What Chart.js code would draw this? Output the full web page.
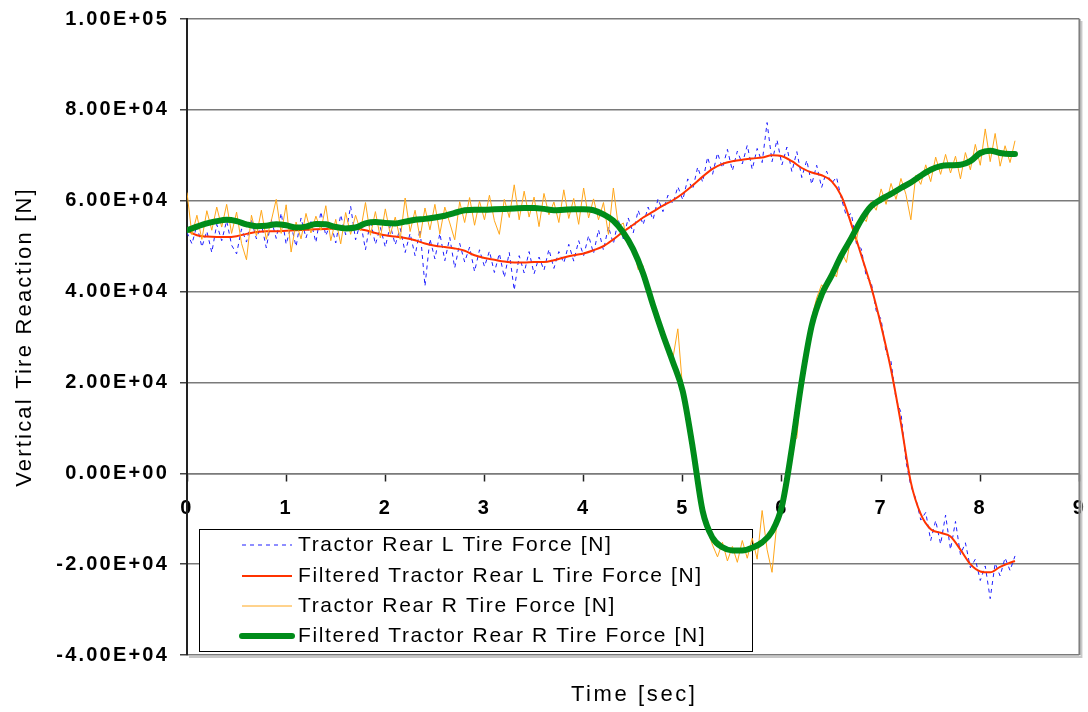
<!DOCTYPE html>
<html>
<head>
<meta charset="utf-8">
<script src="https://cdn.jsdelivr.net/npm/chart.js@4.4.1/dist/chart.umd.min.js"></script>
<style>
  html, body { margin: 0; padding: 0; background: #fff; }
  #wrap { width: 1088px; height: 712px; }
</style>
</head>
<body>
<div id="wrap"><canvas id="chart" width="1088" height="712"></canvas></div>
<script>
// sample times [sec]
const tRaw = [
  0, 0.05, 0.1, 0.15, 0.2, 0.25, 0.3, 0.35, 0.4, 0.45,
  0.5, 0.55, 0.6, 0.65, 0.7, 0.75, 0.8, 0.85, 0.9, 0.95,
  1, 1.05, 1.1, 1.15, 1.2, 1.25, 1.3, 1.35, 1.4, 1.45,
  1.5, 1.55, 1.6, 1.65, 1.7, 1.75, 1.8, 1.85, 1.9, 1.95,
  2, 2.05, 2.1, 2.15, 2.2, 2.25, 2.3, 2.35, 2.4, 2.45,
  2.5, 2.55, 2.6, 2.65, 2.7, 2.75, 2.8, 2.85, 2.9, 2.95,
  3, 3.05, 3.1, 3.15, 3.2, 3.25, 3.3, 3.35, 3.4, 3.45,
  3.5, 3.55, 3.6, 3.65, 3.7, 3.75, 3.8, 3.85, 3.9, 3.95,
  4, 4.05, 4.1, 4.15, 4.2, 4.25, 4.3, 4.35, 4.4, 4.45,
  4.5, 4.55, 4.6, 4.65, 4.7, 4.75, 4.8, 4.85, 4.9, 4.95,
  5, 5.05, 5.1, 5.15, 5.2, 5.25, 5.3, 5.35, 5.4, 5.45,
  5.5, 5.55, 5.6, 5.65, 5.7, 5.75, 5.8, 5.85, 5.9, 5.95,
  6, 6.05, 6.1, 6.15, 6.2, 6.25, 6.3, 6.35, 6.4, 6.45,
  6.5, 6.55, 6.6, 6.65, 6.7, 6.75, 6.8, 6.85, 6.9, 6.95,
  7, 7.05, 7.1, 7.15, 7.2, 7.25, 7.3, 7.35, 7.4, 7.45,
  7.5, 7.55, 7.6, 7.65, 7.7, 7.75, 7.8, 7.85, 7.9, 7.95,
  8, 8.05, 8.1, 8.15, 8.2, 8.25, 8.3, 8.35
];
const tFilt = [
  0, 0.1, 0.2, 0.3, 0.4, 0.5, 0.6, 0.7, 0.8, 0.9,
  1, 1.1, 1.2, 1.3, 1.4, 1.5, 1.6, 1.7, 1.8, 1.9,
  2, 2.1, 2.2, 2.3, 2.4, 2.5, 2.6, 2.7, 2.8, 2.9,
  3, 3.1, 3.2, 3.3, 3.4, 3.5, 3.6, 3.7, 3.8, 3.9,
  4, 4.1, 4.2, 4.3, 4.4, 4.5, 4.6, 4.7, 4.8, 4.9,
  5, 5.1, 5.2, 5.3, 5.4, 5.5, 5.6, 5.7, 5.8, 5.9,
  6, 6.1, 6.2, 6.3, 6.4, 6.5, 6.6, 6.7, 6.8, 6.9,
  7, 7.1, 7.2, 7.3, 7.4, 7.5, 7.6, 7.7, 7.8, 7.9,
  8, 8.1, 8.2, 8.3, 8.35
];

// Tractor Rear L Tire Force [N] (raw)
const rearLRaw = [
  53000, 50500, 54600, 49800, 53300, 48600, 54800, 51200, 55600, 50200,
  48300, 53800, 50900, 55700, 51600, 54900, 49600, 55800, 51700, 57300,
  50400, 54600, 49900, 56200, 51800, 55400, 50800, 57600, 52300, 55200,
  50700, 56900, 52500, 58800, 51400, 55300, 49200, 55700, 50400, 54100,
  49800, 54600, 50300, 53900, 48600, 52800, 47900, 53700, 41200, 51600,
  47200, 52800, 46800, 51900, 45200, 50600, 46500, 49800, 44400, 49200,
  45500, 48900, 44200, 48400, 43100, 48600, 40300, 47900, 44100, 48800,
  43900, 47600, 44700, 49300, 45100, 48800, 46300, 50400, 46700, 51200,
  47900, 52300, 48400, 53600, 49100, 54300, 50500, 55800, 51600, 56200,
  52900, 57900, 54700, 58600, 55800, 60400, 57600, 61200, 59300, 63100,
  60200, 64800, 62500, 67400, 64100, 69600, 65800, 70500, 67200, 71300,
  66600, 70900, 68100, 72200, 66900, 71500, 68400, 77200, 68600, 73400,
  67900, 71800, 66400, 70800, 65100, 68900, 63600, 67800, 62900, 66500,
  63800, 65200, 60400, 56600, 57200, 50600, 49400, 43300, 42100, 35800,
  33900, 26600, 24600, 16300, 13400, 2600, -2800, -5600, -10300, -8600,
  -14800, -10400, -15600, -9200, -16800, -10600, -17900, -15300, -20800, -18900,
  -23600, -20400, -27600, -19800, -22600, -18600, -21400, -18200
];

// Filtered Tractor Rear L Tire Force [N]
const rearLFilt = [
  53500, 52400, 52100, 52000, 52000, 52200, 52700, 53100, 53300, 53300,
  53400, 53500, 53600, 53700, 53800, 53900, 54000, 53900, 53500, 52900,
  52400, 52100, 51800, 51300, 50600, 50100, 49800, 49500, 49000, 48000,
  47400, 47000, 46600, 46400, 46400, 46500, 46500, 46900, 47500, 48000,
  48400, 49100, 50000, 51500, 53200, 54700, 56300, 57600, 58900, 60100,
  61600, 63400, 65300, 67000, 68100, 68700, 69000, 69300, 69500, 70000,
  69800, 68700, 67200, 66200, 65600, 64300, 61000, 54800, 48000, 41000,
  32500, 22800, 11000, -2000, -9000, -12300, -13100, -13900, -16800, -20000,
  -21600, -21800, -20600, -19700, -19300
];

// Tractor Rear R Tire Force [N] (raw)
const rearRRaw = [
  61800, 52500, 56800, 51500, 57800, 53500, 58600, 54200, 59200, 52800,
  57500, 50600, 47000, 56800, 52300, 57900, 51500, 55600, 60300, 52800,
  59100, 48700, 55300, 51600, 57200, 52900, 56600, 53500, 58900, 51200,
  55900, 50500, 57400, 52600, 56800, 53400, 59600, 52400, 57600, 51800,
  58200, 52600, 56400, 51500, 60600, 53200, 57900, 51800, 58400, 53600,
  59200, 52700, 58600, 55100, 51400, 59800, 55200, 60700, 54600, 59900,
  55800, 61200, 55600, 52600, 60300, 56300, 63500, 55800, 62100, 56400,
  60800, 54300, 61600, 56900, 59700, 55200, 62400, 56100, 60500, 54800,
  62800, 56200, 60400, 55800, 59600, 52600, 62800, 54300, 55100, 50200,
  49800, 44800, 45700, 39300, 38600, 33500, 31200, 27600, 25300, 31800,
  18200, 12600, 6800, -1200, -9300, -12600, -15800, -18400, -15200, -19300,
  -16100, -19600, -14800, -18700, -14300, -18900, -8200, -16800, -21800, -10600,
  -6300, -1200, 6500, 7800, 20800, 27400, 34200, 38600, 41500, 40300,
  44800, 43200, 48800, 46400, 52600, 51200, 56800, 55400, 59800, 57900,
  62600, 59200, 63800, 60300, 64900, 61400, 55800, 65600, 63600, 67900,
  64200, 69600, 65800, 70200, 66100, 69800, 64800, 70600, 66800, 72400,
  67800, 75800, 68600, 74800, 67600, 72100, 68400, 73200
];

// Filtered Tractor Rear R Tire Force [N]
const rearRFilt = [
  53500, 54300, 55000, 55500, 55800, 55500, 54800, 54400, 54500, 54800,
  54600, 54100, 54300, 54900, 54800, 54200, 53900, 54100, 55000, 55300,
  55100, 55000, 55400, 55800, 56000, 56300, 56700, 57300, 57900, 58000,
  58000, 58100, 58200, 58300, 58400, 58400, 58200, 57900, 58000, 58100,
  58100, 57900, 57000, 55600, 53000, 49300, 44000, 37000, 30500, 24500,
  18000, 5700, -8300, -14200, -16300, -17000, -17000, -16400, -15200, -12800,
  -7200, 5500, 20400, 32500, 39300, 43500, 48000, 51800, 55800, 58800,
  60300, 61500, 62800, 64000, 65500, 66800, 67600, 67800, 67900, 68700,
  70500, 71000, 70500, 70300, 70300
];

const FONT = 'Liberation Sans';

function pts(xs, ys) {
  return xs.map((x, i) => ({ x: x, y: ys[i] }));
}

// Excel style scientific label, e.g. 1.00E+05
function sci(v) {
  if (v === 0) return '0.00E+00';
  const exp = Math.floor(Math.log10(Math.abs(v)));
  const mant = v / Math.pow(10, exp);
  return mant.toFixed(2) + 'E' + (exp < 0 ? '-' : '+') + String(Math.abs(exp)).padStart(2, '0');
}

// wider glyph spacing for the axis texts
const spacing = {
  id: 'spacing',
  beforeDraw(chart) {
    chart.ctx.letterSpacing = '2.2px';
  }
};

// plot frame + boxed legend that sits under the lines
const legendBox = {
  id: 'legendBox',
  beforeDatasetsDraw(chart) {
    const ctx = chart.ctx;
    const area = chart.chartArea;
    ctx.save();
    ctx.strokeStyle = '#c8c8c8';
    ctx.lineWidth = 2;
    ctx.beginPath();
    ctx.moveTo(area.right + 2, area.top + 2);
    ctx.lineTo(area.right + 2, area.bottom + 2);
    ctx.lineTo(area.left + 2, area.bottom + 2);
    ctx.stroke();
    ctx.strokeStyle = '#808080';
    ctx.lineWidth = 2;
    ctx.beginPath();
    ctx.moveTo(area.right, area.top);
    ctx.lineTo(area.right, area.bottom);
    ctx.stroke();

    const bx = 199, by = 529, bw = 553, bh = 122;
    ctx.fillStyle = '#fff';
    ctx.fillRect(bx, by, bw, bh);
    ctx.strokeStyle = '#000';
    ctx.lineWidth = 1;
    ctx.strokeRect(bx + 0.5, by + 0.5, bw, bh);

    const rows = [545, 576, 606, 636];
    ctx.font = '21px "' + FONT + '"';
    ctx.textBaseline = 'middle';
    ctx.textAlign = 'left';
    ctx.letterSpacing = '1.6px';
    chart.data.datasets.forEach((ds, i) => {
      const y = rows[i];
      ctx.save();
      ctx.strokeStyle = ds.borderColor;
      ctx.lineWidth = ds.borderWidth;
      ctx.setLineDash(ds.borderDash || []);
      ctx.lineCap = ds.borderWidth > 3 ? 'round' : 'butt';
      ctx.beginPath();
      ctx.moveTo(242, y);
      ctx.lineTo(292, y);
      ctx.stroke();
      ctx.restore();
      ctx.fillStyle = '#000';
      ctx.fillText(ds.label, 298, y);
    });
    ctx.restore();
  },
  afterDraw(chart) {
    const ctx = chart.ctx;
    const area = chart.chartArea;
    ctx.save();
    ctx.font = '22px "' + FONT + '"';
    ctx.letterSpacing = '2.6px';
    ctx.fillStyle = '#000';
    ctx.textAlign = 'center';
    ctx.textBaseline = 'alphabetic';
    ctx.fillText('Time [sec]', (area.left + area.right) / 2 + 1, 701);
    ctx.restore();
  }
};

new Chart(document.getElementById('chart'), {
  type: 'line',
  data: {
    datasets: [
      {
        label: 'Tractor Rear L Tire Force [N]',
        data: pts(tRaw, rearLRaw),
        borderColor: '#1f1fff',
        borderWidth: 1,
        borderDash: [4, 4],
        pointRadius: 0,
        tension: 0,
        order: 4
      },
      {
        label: 'Filtered Tractor Rear L Tire Force [N]',
        data: pts(tFilt, rearLFilt),
        borderColor: '#ff3300',
        borderWidth: 2,
        pointRadius: 0,
        cubicInterpolationMode: 'monotone',
        order: 3
      },
      {
        label: 'Tractor Rear R Tire Force [N]',
        data: pts(tRaw, rearRRaw),
        borderColor: '#ffa61a',
        borderWidth: 1,
        pointRadius: 0,
        tension: 0,
        order: 2
      },
      {
        label: 'Filtered Tractor Rear R Tire Force [N]',
        data: pts(tFilt, rearRFilt),
        borderColor: '#008c1a',
        borderWidth: 6,
        borderCapStyle: 'round',
        borderJoinStyle: 'round',
        pointRadius: 0,
        cubicInterpolationMode: 'monotone',
        order: 1
      }
    ]
  },
  options: {
    responsive: false,
    animation: false,
    devicePixelRatio: 1,
    layout: { padding: { top: 19, right: 8, bottom: 57, left: 0 } },
    plugins: {
      legend: { display: false },
      tooltip: { enabled: false }
    },
    scales: {
      x: {
        type: 'linear',
        position: { y: 0 },
        min: 0,
        max: 9,
        grid: { drawOnChartArea: false, drawTicks: true, tickLength: 7, tickColor: '#222', tickWidth: 1.5 },
        border: { display: true, color: '#7a7a7a', width: 1.5 },
        ticks: {
          stepSize: 1,
          padding: 3,
          maxRotation: 0,
          color: '#000',
          font: { family: FONT, size: 20, weight: 'bold', lineHeight: 2.5 }
        }
      },
      y: {
        type: 'linear',
        position: 'left',
        min: -40000,
        max: 100000,
        afterFit: s => { s.width = 187; },
        grid: { color: '#7a7a7a', lineWidth: 1.5, tickLength: 7, tickColor: '#444', tickWidth: 1.5 },
        border: { display: true, color: '#222', width: 2 },
        ticks: {
          stepSize: 20000,
          padding: 11,
          color: '#000',
          font: { family: FONT, size: 20, weight: 'bold', lineHeight: 0.8 },
          callback: v => sci(v)
        },
        title: {
          display: true,
          text: 'Vertical Tire Reaction [N]',
          color: '#000',
          font: { family: FONT, size: 22 },
          padding: { top: 12, bottom: 0 }
        }
      }
    }
  },
  plugins: [spacing, legendBox]
});
</script>
</body>
</html>
